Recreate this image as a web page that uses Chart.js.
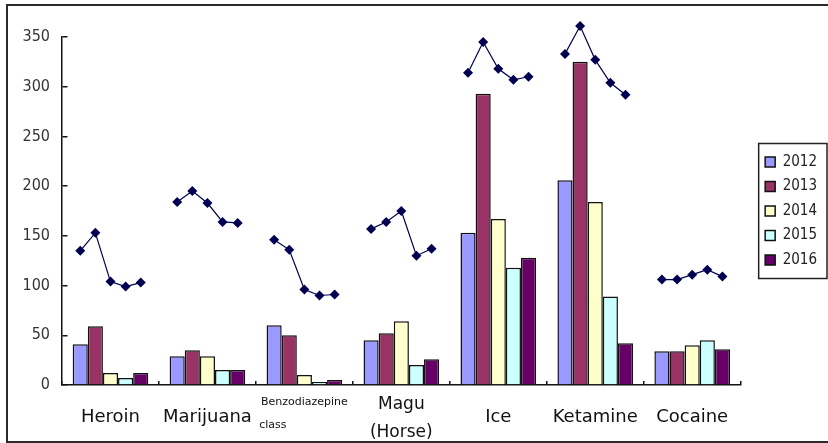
<!DOCTYPE html>
<html>
<head>
<meta charset="utf-8">
<script src="https://cdn.jsdelivr.net/npm/chart.js@4.4.1/dist/chart.umd.min.js"></script>
<style>
  html, body { margin: 0; padding: 0; background: #fff; overflow: hidden; }
  #wrap { position: relative; width: 828px; height: 443px; }
  #frame { position: absolute; left: 6px; top: 4px; width: 900px; height: 435px;
           border: 2px solid #2a2a2a; pointer-events: none; }
</style>
</head>
<body>
<div id="wrap">
  <canvas id="chart"></canvas>
  <div id="frame"></div>
</div>
<script>
const categories = ['Heroin', 'Marijuana', ['Benzodiazepine', 'class'], ['Magu', '(Horse)'], 'Ice', 'Ketamine', 'Cocaine'];
const years = ['2012', '2013', '2014', '2015', '2016'];

// bar heights, one array per year, in category order
const bars2012 = [41, 29, 60, 45, 153, 206, 34];
const bars2013 = [59, 35, 50, 52, 293, 325, 34];
const bars2014 = [12, 29, 10, 64, 167, 184, 40];
const bars2015 = [7, 15, 3, 20, 118, 89, 45];
const bars2016 = [12, 15, 5, 26, 128, 42, 36];

// trend line per category, one value per year
const lineHeroin = [135, 153, 104, 99, 103];
const lineMarijuana = [184, 195, 183, 164, 163];
const lineBenzo = [146, 136, 96, 90, 91];
const lineMagu = [157, 164, 175, 130, 137];
const lineIce = [314, 345, 318, 307, 310];
const lineKetamine = [333, 361, 327, 304, 292];
const lineCocaine = [106, 106, 111, 116, 109];

const yMax = 350;
const yStep = 50;

const barSeries = [bars2012, bars2013, bars2014, bars2015, bars2016];
const lineSeries = [lineHeroin, lineMarijuana, lineBenzo, lineMagu, lineIce, lineKetamine, lineCocaine];
const barColors = ['#9999ff', '#993366', '#ffffcc', '#ccffff', '#660066'];
const lineColor = '#000050';
const groupPct = 0.78;
const legendShift = 15;

const datasets = barSeries.map((vals, i) => ({
  type: 'bar',
  label: years[i],
  data: vals,
  backgroundColor: barColors[i],
  borderColor: '#111',
  borderWidth: 1.5,
  categoryPercentage: groupPct,
  barPercentage: 1,
  order: 2
}));

// each trend line sits over its own group of bars: x is the category index
// nudged to the centre of that year's bar (unparsed, so fractions are kept)
lineSeries.forEach((vals, c) => {
  datasets.push({
    type: 'line',
    label: 'trend ' + c,
    parsing: false,
    data: vals.map((v, j) => ({ x: c + (j - 2) * groupPct / years.length, y: v })),
    borderColor: lineColor,
    borderWidth: 1.2,
    backgroundColor: lineColor,
    pointStyle: 'rectRot',
    pointRadius: 5,
    pointHoverRadius: 14,
    pointBorderWidth: 0,
    clip: false,
    order: 1
  });
});

function tickFont(i) {
  if (i === 2) return { family: 'DejaVu Sans', size: 11, lineHeight: 23 / 11 };
  if (i === 3) return { family: 'DejaVu Sans', size: 17, lineHeight: 28 / 17 };
  return { family: 'DejaVu Sans', size: 18, lineHeight: 52 / 18 };
}

const legendFrame = {
  id: 'legendFrame',
  afterLayout(chart) {
    const lg = chart.legend;
    lg.left += legendShift;
    lg.right += legendShift;
    lg.bottom = chart.chartArea.bottom;
    lg.height = lg.bottom - lg.top;
  },
  afterDraw(chart) {
    const lg = chart.legend;
    const ctx = chart.ctx;
    const cy = (lg.top + lg.bottom) / 2;
    ctx.save();
    ctx.strokeStyle = '#222';
    ctx.lineWidth = 1.5;
    ctx.strokeRect(lg.left + 3, cy - 67.5, chart.width - lg.left - 4, 135);
    ctx.restore();
  }
};

new Chart(document.getElementById('chart'), {
  data: { labels: categories, datasets },
  options: {
    responsive: true,
    maintainAspectRatio: false,
    animation: false,
    events: [],
    layout: { padding: { top: 37, right: 16, bottom: 0, left: 0 } },
    plugins: {
      tooltip: { enabled: false },
      legend: {
        position: 'right',
        labels: {
          filter: (item) => item.datasetIndex < years.length,
          boxWidth: 10,
          boxHeight: 10,
          padding: 9.5,
          color: '#222',
          font: { family: "'DejaVu Sans Condensed', 'DejaVu Sans'", size: 15 }
        }
      }
    },
    scales: {
      x: {
        type: 'category',
        afterFit: (s) => { s.height = 58; },
        grid: {
          drawOnChartArea: true,
          drawTicks: false,
          color: '#111',
          lineWidth: 1.5
        },
        border: {
          color: '#111',
          width: 1.5,
          // only a short stub at the foot of each category boundary
          dash: (c) => {
            const a = c.chart.chartArea;
            const h = a ? a.bottom - a.top : 300;
            return [0, h - 4, 4, 0];
          }
        },
        ticks: {
          padding: 6,
          color: '#111',
          autoSkip: false,
          maxRotation: 0,
          minRotation: 0,
          font: (c) => tickFont(c.index),
          callback: function (v, i) {
            if (i === 2) return ['Benzodiazepine', 'class' + '\u00a0'.repeat(18)];
            return this.getLabelForValue(v);
          }
        }
      },
      y: {
        min: 0,
        max: yMax,
        afterFit: (s) => { s.width = 62; },
        grid: {
          drawOnChartArea: true,
          drawTicks: false,
          color: '#111',
          lineWidth: 1.5
        },
        border: { color: '#111', width: 1.5, dash: [5, 3000] },
        ticks: {
          stepSize: yStep,
          padding: 12,
          color: '#333',
          font: { family: "'DejaVu Sans Condensed', 'DejaVu Sans'", size: 16 }
        }
      }
    }
  },
  plugins: [legendFrame]
});
</script>
</body>
</html>
